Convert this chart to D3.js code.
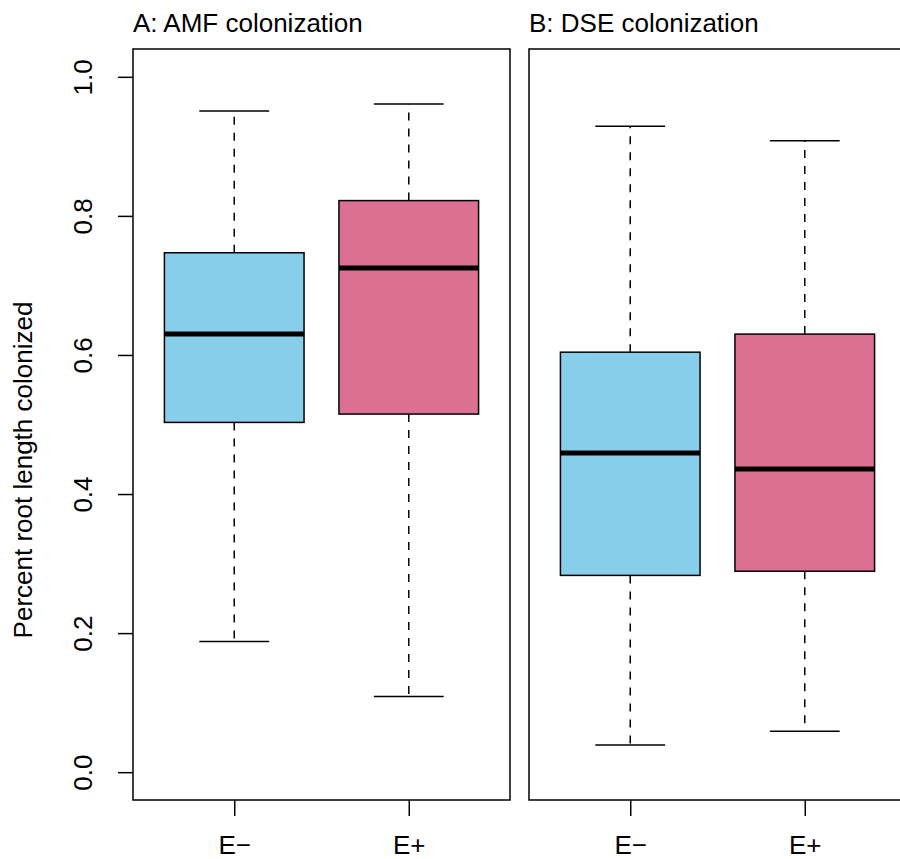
<!DOCTYPE html>
<html>
<head>
<meta charset="utf-8">
<script src="https://cdn.jsdelivr.net/npm/d3@7"></script>
<style>
  body { margin: 0; background: #fff; }
  svg { display: block; font-family: "Liberation Sans", Arial, sans-serif; }
</style>
</head>
<body>
<svg width="900" height="859"></svg>
<script>
// Panels and groups
const panels = ["A: AMF colonization", "B: DSE colonization"];
const groups = ["E\u2212", "E+"];
const colors = ["#87CEEB", "#DB7093"];

// Five-number summaries: [low whisker, Q1, median, Q3, high whisker]
const amfStats = [
    [0.188, 0.503, 0.630, 0.747, 0.951],
    [0.109, 0.515, 0.725, 0.822, 0.961]
];
const dseStats = [
    [0.039, 0.283, 0.459, 0.604, 0.929],
    [0.059, 0.289, 0.436, 0.630, 0.908]
];
const yTicks = [0, 0.2, 0.4, 0.6, 0.8, 1.0];

const svg = d3.select("svg");

const plotTop = 49, plotBottom = 800;
const panelLeft = [133, 529];
const panelWidth = 377;
const fontSize = 26;

const y = d3.scaleLinear().domain([-0.04, 1.04]).range([plotBottom, plotTop]);

// y axis label (sits a bit below the panel centre in the original)
svg.append("text")
    .attr("transform", "translate(23, 470) rotate(-90)")
    .attr("text-anchor", "middle")
    .attr("dominant-baseline", "central")
    .attr("font-size", fontSize)
    .text("Percent root length colonized");

[amfStats, dseStats].forEach((stats, p) => {
    const x0 = panelLeft[p];
    const x = d3.scaleLinear().domain([0.42, 2.58]).range([x0, x0 + panelWidth]);
    const g = svg.append("g");

    // title
    g.append("text")
        .attr("x", x0)
        .attr("y", 32)
        .attr("font-size", fontSize)
        .text(panels[p]);

    stats.forEach((s, i) => {
        const cx = x(i + 1);
        const hw = x(1.4) - x(1);
        const cw = x(1.2) - x(1);
        const [lo, q1, med, q3, hi] = s;

        // whiskers
        g.append("line")
            .attr("x1", cx).attr("x2", cx)
            .attr("y1", y(q3)).attr("y2", y(hi))
            .attr("stroke", "#000").attr("stroke-width", 1.5)
            .attr("stroke-dasharray", "8,8");
        g.append("line")
            .attr("x1", cx).attr("x2", cx)
            .attr("y1", y(q1)).attr("y2", y(lo))
            .attr("stroke", "#000").attr("stroke-width", 1.5)
            .attr("stroke-dasharray", "8,8");
        [lo, hi].forEach(v => {
            g.append("line")
                .attr("x1", cx - cw).attr("x2", cx + cw)
                .attr("y1", y(v)).attr("y2", y(v))
                .attr("stroke", "#000").attr("stroke-width", 1.5);
        });

        // box
        g.append("rect")
            .attr("x", cx - hw)
            .attr("y", y(q3))
            .attr("width", 2 * hw)
            .attr("height", y(q1) - y(q3))
            .attr("fill", colors[i])
            .attr("stroke", "#000")
            .attr("stroke-width", 1.5);

        // median
        g.append("line")
            .attr("x1", cx - hw).attr("x2", cx + hw)
            .attr("y1", y(med)).attr("y2", y(med))
            .attr("stroke", "#000").attr("stroke-width", 5);
    });

    // frame
    g.append("rect")
        .attr("x", x0).attr("y", plotTop)
        .attr("width", panelWidth).attr("height", plotBottom - plotTop)
        .attr("fill", "none").attr("stroke", "#000").attr("stroke-width", 1.5);

    // x axis
    const xa = g.append("g")
        .attr("transform", `translate(0, ${plotBottom})`)
        .call(d3.axisBottom(x).tickValues([1, 2]).tickFormat(d => groups[d - 1])
            .tickSize(16));
    xa.select(".domain").remove();
    xa.selectAll("line").attr("stroke-width", 1.5);
    xa.selectAll("text")
        .attr("font-size", fontSize)
        .attr("font-family", "Liberation Sans, Arial, sans-serif")
        .attr("y", 54)
        .attr("dy", null);

    // y axis only on first panel
    if (p === 0) {
        const ya = g.append("g")
            .attr("transform", `translate(${x0}, 0)`)
            .call(d3.axisLeft(y).tickValues(yTicks).tickFormat(d3.format(".1f"))
                .tickSize(15).tickPadding(0));
        ya.select(".domain").remove();
        ya.selectAll("line").attr("stroke-width", 1.5);
        ya.selectAll("text")
            .attr("font-size", fontSize)
            .attr("font-family", "Liberation Sans, Arial, sans-serif")
            .attr("text-anchor", "middle")
            .attr("dy", null)
            .attr("x", null)
            .attr("transform", "translate(-50, 0) rotate(-90)")
            .attr("dominant-baseline", "central");
    }
});
</script>
</body>
</html>
